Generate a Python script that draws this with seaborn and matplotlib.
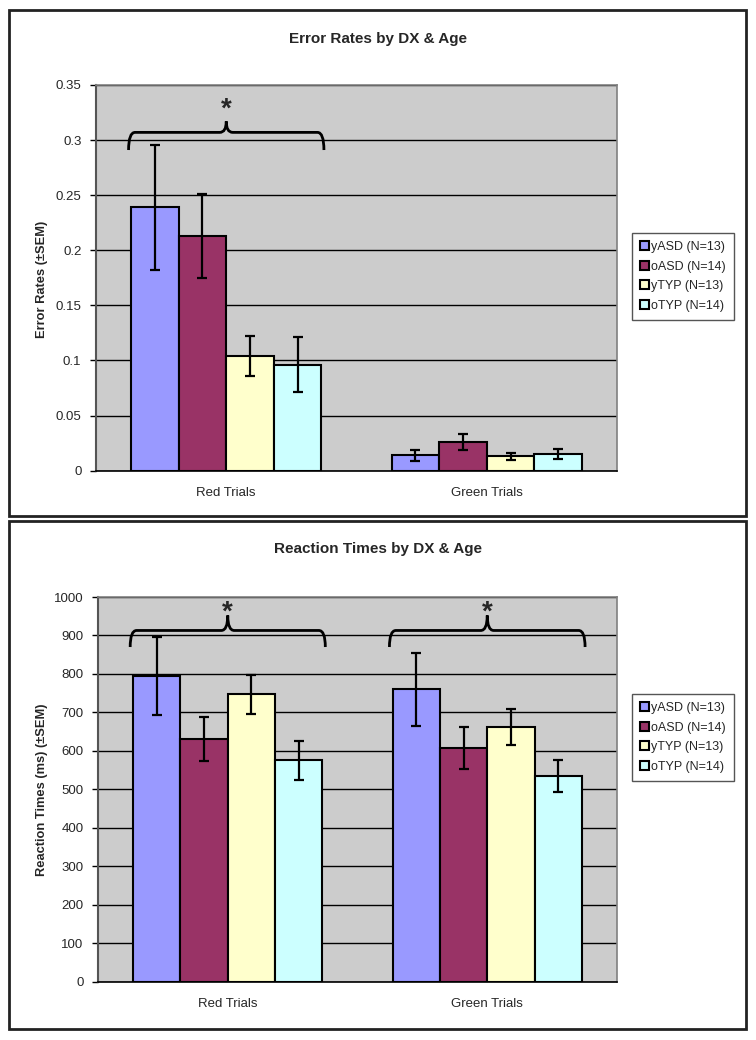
import pandas as pd
import matplotlib.pyplot as plt
import seaborn as sns
from matplotlib.path import Path
from matplotlib.patches import PathPatch, Rectangle

# datos
trials = ['Red Trials', 'Green Trials']
groups = ['yASD (N=13)', 'oASD (N=14)', 'yTYP (N=13)', 'oTYP (N=14)']
colores = ['#9999FF', '#993366', '#FFFFCC', '#CCFFFF']

# tasas de error: [red, green] por grupo
err_rate = [[0.239, 0.014], [0.213, 0.026], [0.104, 0.013], [0.096, 0.015]]
err_sem = [[0.057, 0.005], [0.038, 0.007], [0.018, 0.0035], [0.025, 0.0045]]

# tiempos de reaccion (ms)
rt_mean = [[795, 760], [630, 607], [747, 662], [575, 534]]
rt_sem = [[102, 95], [57, 54], [51, 46], [50, 42]]

sns.set_theme(style='white')
plt.rcParams['font.family'] = ['Liberation Sans', 'DejaVu Sans']

fig = plt.figure(figsize=(7.56, 10.4), dpi=100)
W, H = 756, 1040


def brace(ax, xc, half, y_base, y_line, y_tip, y_star, r=0.025):
    x0, x1 = xc - half, xc + half
    verts = [(x0, y_base), (x0, y_line), (x0 + r, y_line),
             (xc - r, y_line), (xc, y_line), (xc, y_tip),
             (xc, y_line), (xc + r, y_line),
             (x1 - r, y_line), (x1, y_line), (x1, y_base)]
    codes = [Path.MOVETO, Path.CURVE3, Path.CURVE3,
             Path.LINETO, Path.CURVE3, Path.CURVE3,
             Path.CURVE3, Path.CURVE3,
             Path.LINETO, Path.CURVE3, Path.CURVE3]
    ax.add_patch(PathPatch(Path(verts, codes), fill=False, lw=2, color='black',
                           transform=ax.transData, clip_on=False))
    ax.text(xc, y_star, '*', ha='center', va='baseline', fontsize=20, fontweight='bold')


def panel(ax, means, sems, ymax, step, fmt, ylabel, title, ylab_y, title_y, leg_top, xlab_pad):
    rows = []
    for g, vals in zip(groups, means):
        for t, v in zip(trials, vals):
            rows.append({'trial': t, 'group': g, 'value': v})
    df = pd.DataFrame(rows)
    sns.barplot(data=df, x='trial', y='value', hue='group', palette=colores,
                width=0.73, gap=0, errorbar=None, edgecolor='black', linewidth=1.5,
                saturation=1, ax=ax)
    for cont, vals, s in zip(ax.containers, means, sems):
        xs = [b.get_x() + b.get_width() / 2 for b in cont]
        ax.errorbar(xs, vals, yerr=s, fmt='none', ecolor='black', elinewidth=1.6,
                    capsize=3.8, capthick=1.6, zorder=5)

    ax.set_facecolor('#CCCCCC')
    ax.set_xlim(-0.5, 1.5)
    ax.set_ylim(0, ymax)
    ticks = [i * step for i in range(int(round(ymax / step)) + 1)]
    ax.set_yticks(ticks)
    ax.set_yticklabels([fmt(t) for t in ticks])
    ax.grid(axis='y', color='black', lw=1)
    ax.set_axisbelow(True)
    ax.set_xlabel('')
    ax.set_ylabel('')
    ax.set_xticks([-0.5, 0.5, 1.5], minor=True)
    ax.tick_params(axis='x', which='major', length=0, pad=xlab_pad, labelsize=9.5)
    ax.tick_params(axis='x', which='minor', length=5, width=1, direction='out', color='black')
    ax.tick_params(axis='y', length=4.5, width=1, direction='out', color='black',
                   left=True, pad=6, labelsize=9.5)
    for s in ['top', 'right']:
        ax.spines[s].set_color('#808080')
        ax.spines[s].set_linewidth(1.2)
    ax.spines['left'].set_color('#555555')
    ax.spines['left'].set_linewidth(1.5)
    ax.spines['bottom'].set_color('black')
    ax.spines['bottom'].set_linewidth(1.2)

    handles, labels = ax.get_legend_handles_labels()
    ax.legend(handles=handles, labels=labels, loc='upper left',
              bbox_to_anchor=(632 / W, 1 - leg_top / H), bbox_transform=fig.transFigure,
              fontsize=9, handlelength=0.7, handleheight=0.7, handletextpad=0.15,
              labelspacing=0.6, borderpad=0.65, fancybox=False, edgecolor='#555555',
              framealpha=1, borderaxespad=0)

    fig.text(42 / W, 1 - ylab_y / H, ylabel, rotation=90, ha='center', va='center',
             fontsize=9.3, fontweight='bold')
    fig.text(378 / W, 1 - title_y / H, title, ha='center', va='center',
             fontsize=11, fontweight='bold')


ax1 = fig.add_axes([96 / W, 1 - 470.7 / H, 521 / W, 385.7 / H])
panel(ax1, err_rate, err_sem, 0.35, 0.05, lambda t: '%g' % round(t, 2),
      'Error Rates (±SEM)', 'Error Rates by DX & Age', 279, 39, 233, 12)
brace(ax1, 0.0, 0.375, 0.291, 0.307, 0.317, 0.3215)

ax2 = fig.add_axes([98 / W, 1 - 981.7 / H, 519 / W, 384.7 / H])
panel(ax2, rt_mean, rt_sem, 1000, 100, lambda t: '%d' % t,
      'Reaction Times (ms) (±SEM)', 'Reaction Times by DX & Age', 790, 549, 694, 12)
brace(ax2, 0.0, 0.376, 870, 913, 952, 940)
brace(ax2, 1.0, 0.377, 870, 913, 952, 940)

# marcos de cada grafico
for top, bot in [(10, 516), (521, 1029)]:
    fig.add_artist(Rectangle((9 / W, 1 - bot / H), (746 - 9) / W, (bot - top) / H,
                             transform=fig.transFigure, fill=False,
                             edgecolor='#222222', lw=2))

fig.savefig('out.png', dpi=100)
